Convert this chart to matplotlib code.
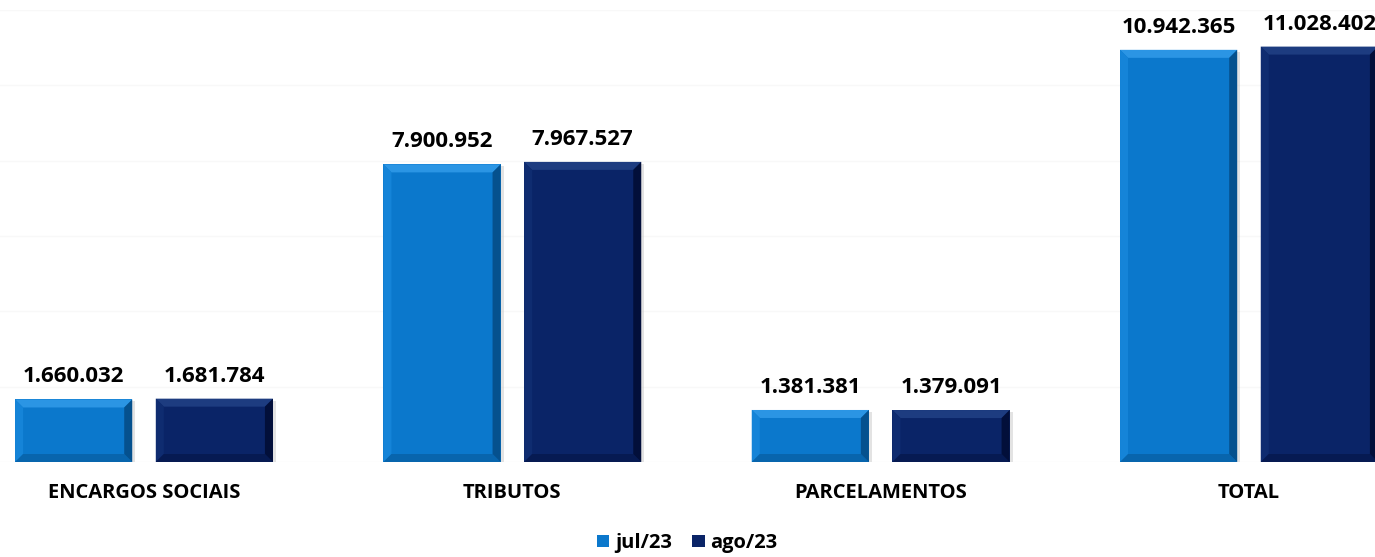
import matplotlib
matplotlib.use("Agg")
import matplotlib.pyplot as plt
from matplotlib.patches import Polygon
import numpy as np

categories = ["ENCARGOS SOCIAIS", "TRIBUTOS", "PARCELAMENTOS", "TOTAL"]
series_names = ["jul/23", "ago/23"]
jul23 = [1660032, 7900952, 1381381, 10942365]
ago23 = [1681784, 7967527, 1379091, 11028402]
labels_jul = ["1.660.032", "7.900.952", "1.381.381", "10.942.365"]
labels_ago = ["1.681.784", "7.967.527", "1.379.091", "11.028.402"]

colors = ["#0b78cc", "#0a2467"]
light = ["#2b95e4", "#1d3c80"]
leftc = ["#1584d8", "#0f2c70"]
dark = ["#0865ad", "#061a52"]
darker = ["#05518e", "#020f3a"]

W, H = 1375, 557
fig = plt.figure(figsize=(W / 100, H / 100), dpi=100)
base_px = 462
top_px = 10
ax = fig.add_axes([0, (H - base_px) / H, 1, (base_px - top_px) / H])
ymax = 12_000_000
ax.set_ylim(0, ymax)
step = 368.3
ax.set_xlim(-144 / step, 3 + (W - 1249) / step)

x = np.arange(len(categories))
bw = 0.318
off = 0.191

ax.set_yticks(np.arange(0, ymax + 1, 2_000_000))
ax.grid(axis="y", color="#f8f8f8", linewidth=1)
ax.set_axisbelow(True)
for s in ax.spines.values():
    s.set_visible(False)
ax.tick_params(left=False, bottom=False, labelleft=False, labelbottom=False)

px_x = 1 / step
px_y = ymax / (base_px - top_px)
bev = 8

font = ["Open Sans", "DejaVu Sans"]

for si, (vals, labs) in enumerate([(jul23, labels_jul), (ago23, labels_ago)]):
    xs = x + (-off if si == 0 else off)
    bars = ax.bar(xs, vals, width=bw, color=colors[si], zorder=2,
                  label=series_names[si], linewidth=0)
    for b, lab in zip(bars, labs):
        x0, y0 = b.get_x(), b.get_y()
        x1, y1 = x0 + b.get_width(), y0 + b.get_height()
        dx, dy = bev * px_x, bev * px_y
        sh = Polygon([(x0 + 2 * px_x, y0 - 3 * px_y), (x1 + 3 * px_x, y0 - 3 * px_y),
                      (x1 + 3 * px_x, y1 - 2 * px_y), (x1, y1 - 2 * px_y), (x1, y0), (x0 + 2 * px_x, y0)],
                     closed=True, facecolor="#c8c8c8", alpha=0.5, edgecolor="none", zorder=1.5)
        ax.add_patch(sh)
        top = Polygon([(x0, y1), (x1, y1), (x1 - dx, y1 - dy), (x0 + dx, y1 - dy)],
                      facecolor=light[si], edgecolor="none", zorder=3)
        left = Polygon([(x0, y0), (x0, y1), (x0 + dx, y1 - dy), (x0 + dx, y0 + dy)],
                       facecolor=leftc[si], edgecolor="none", zorder=3)
        bottom = Polygon([(x0, y0), (x1, y0), (x1 - dx, y0 + dy), (x0 + dx, y0 + dy)],
                         facecolor=dark[si], edgecolor="none", zorder=3)
        right = Polygon([(x1, y0), (x1, y1), (x1 - dx, y1 - dy), (x1 - dx, y0 + dy)],
                        facecolor=darker[si], edgecolor="none", zorder=3)
        for p in (top, left, bottom, right):
            ax.add_patch(p)
        ax.text(b.get_x() + b.get_width() / 2, y1 + 12 * px_y, lab,
                ha="center", va="bottom", fontsize=16, fontweight="bold",
                family=font, color="black", zorder=4)

for xi, c in zip(x, categories):
    ax.text(xi, -31 * px_y, c, ha="center", va="center", fontsize=14.5,
            fontweight="bold", family=font, color="black")

leg = fig.legend(loc="center", bbox_to_anchor=(0.5, (H - 543) / H), ncol=2,
                 frameon=False, prop={"family": font, "weight": "bold", "size": 14.5},
                 handlelength=0.6, handleheight=0.6, handletextpad=0.3, columnspacing=1.0)

fig.savefig("out.png", dpi=100)
